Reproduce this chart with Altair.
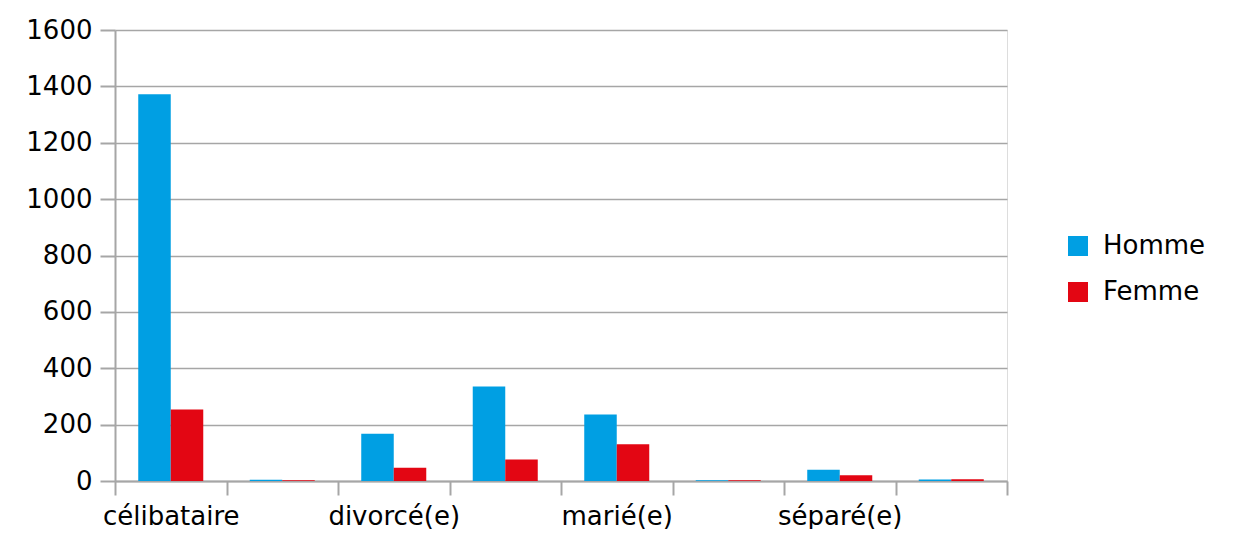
import altair as alt
import pandas as pd

categories = ["célibataire", "concubin(e)", "divorcé(e)", "en couple", "marié(e)", "pacsé(e)", "séparé(e)", "veuf(ve)"]
shown_labels = ["célibataire", "divorcé(e)", "marié(e)", "séparé(e)"]
homme = [1372, 4, 168, 335, 236, 3, 40, 5]
femme = [254, 3, 47, 76, 130, 3, 20, 6]
series = ["Homme", "Femme"]
colors = ["#009FE3", "#E30613"]

rows = []
for c, h, f in zip(categories, homme, femme):
    rows.append({"cat": c, "sexe": "Homme", "val": h})
    rows.append({"cat": c, "sexe": "Femme", "val": f})
df = pd.DataFrame(rows)

FONT = "DejaVu Sans"
label_expr = "indexof(" + str(shown_labels) + ", datum.value) >= 0 ? datum.value : ''"

chart = alt.Chart(df).mark_bar().encode(
    x=alt.X("cat:N", sort=categories, title=None,
            scale=alt.Scale(paddingInner=0, paddingOuter=0),
            axis=alt.Axis(tickBand="extent", labelAngle=0, labelExpr=label_expr,
                          tickSize=14, labelPadding=8, labelFontSize=26, labelFont=FONT,
                          labelColor="#000000", domainColor="#A6A6A6", tickColor="#A6A6A6",
                          domainWidth=2, tickWidth=2, grid=False)),
    xOffset=alt.XOffset("sexe:N", sort=series,
                        scale=alt.Scale(paddingInner=0, paddingOuter=0.715)),
    y=alt.Y("val:Q", title=None,
            scale=alt.Scale(domain=[0, 1600]),
            axis=alt.Axis(values=list(range(0, 1601, 200)), format="d", tickSize=15, labelPadding=8,
                          labelFontSize=26, labelFont=FONT, labelColor="#000000",
                          domainColor="#A6A6A6", tickColor="#A6A6A6", gridColor="#A6A6A6",
                          domainWidth=2, tickWidth=2, gridWidth=1.5)),
    color=alt.Color("sexe:N", sort=series, title=None,
                    scale=alt.Scale(domain=series, range=colors),
                    legend=alt.Legend(orient="none", legendX=950, legendY=203,
                                      symbolType="square", symbolSize=400, symbolStrokeWidth=0,
                                      labelFontSize=26, labelFont=FONT, labelColor="#000000",
                                      labelOffset=12, rowPadding=20, padding=0)),
).properties(
    width=892, height=451,
    autosize=alt.AutoSizeParams(type="none"),
    padding={"left": 107, "top": 22, "right": 218, "bottom": 48},
).configure_view(stroke=None).configure(background="#FFFFFF")

chart.save("out.html", embed_options={"renderer": "svg", "actions": False})
